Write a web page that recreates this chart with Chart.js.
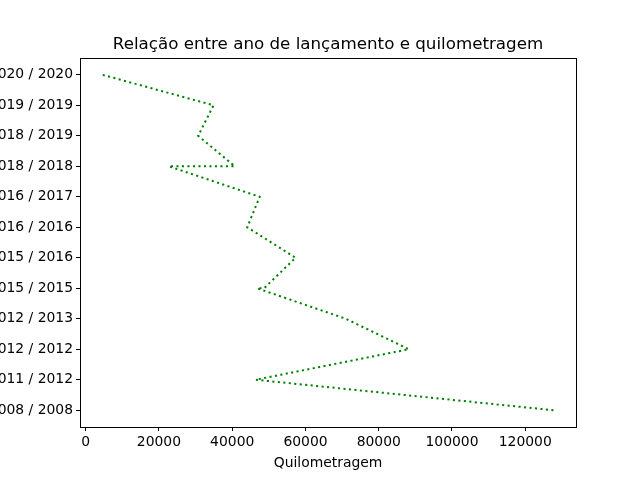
<!DOCTYPE html>
<html>
<head>
<meta charset="utf-8">
<script src="https://cdn.jsdelivr.net/npm/chart.js@4.4.0/dist/chart.umd.min.js"></script>
<style>
    body { margin: 0; background: #fff; }
    canvas { display: block; }
</style>
</head>
<body>
<canvas id="chart" width="640" height="480"></canvas>
<script>
// Year categories, bottom to top (order of first appearance)
const categories = ['2008 / 2008', '2011 / 2012', '2012 / 2012', '2012 / 2013', '2015 / 2015', '2015 / 2016',
    '2016 / 2016', '2016 / 2017', '2018 / 2018', '2018 / 2019', '2019 / 2019', '2020 / 2020'];

// One entry per car, in plotting order
const rowYears = ['2008 / 2008', '2011 / 2012', '2012 / 2012', '2012 / 2013', '2015 / 2015', '2015 / 2015',
    '2015 / 2016', '2016 / 2016', '2016 / 2017', '2018 / 2018', '2018 / 2018', '2018 / 2019', '2019 / 2019', '2020 / 2020'];
const rowKm = [127700, 46400, 88200, 71000, 46800, 48700, 57300, 44100, 47500, 22700, 40700, 30700, 34900, 4600];

const xTicks = [0, 20000, 40000, 60000, 80000, 100000, 120000];

const FONT = 'DejaVu Sans';

// matplotlib-like 5% margins
const kmMin = Math.min(...rowKm);
const kmMax = Math.max(...rowKm);
const kmPad = (kmMax - kmMin) * 0.05;

const points = rowKm.map((km, i) => ({ x: km, y: categories.indexOf(rowYears[i]) }));

// Draw the full box around the plot area
const frame = {
    id: 'frame',
    afterDraw(chart) {
        const a = chart.chartArea;
        const ctx = chart.ctx;
        ctx.save();
        ctx.strokeStyle = '#000';
        ctx.lineWidth = 1;
        ctx.strokeRect(Math.round(a.left) + 0.5, Math.round(a.top) + 0.5,
            Math.round(a.right - a.left), Math.round(a.bottom - a.top));
        ctx.restore();
    }
};

const ctx = document.getElementById('chart').getContext('2d');
new Chart(ctx, {
    type: 'line',
    data: {
        datasets: [{
            data: points,
            borderColor: '#008000',
            borderWidth: 2,
            borderDash: [2.1, 3.4],
            borderCapStyle: 'butt',
            pointRadius: 0,
            tension: 0,
            fill: false
        }]
    },
    plugins: [frame],
    options: {
        responsive: false,
        animation: false,
        layout: { padding: { left: 0, right: 64, top: 0, bottom: 0 } },
        plugins: {
            legend: { display: false },
            tooltip: { enabled: false },
            title: {
                display: true,
                fullSize: false,
                text: 'Relação entre ano de lançamento e quilometragem',
                color: '#000',
                font: { family: FONT, size: 16.7, weight: 'normal' },
                padding: { top: 35, bottom: 3 }
            }
        },
        scales: {
            x: {
                type: 'linear',
                min: kmMin - kmPad,
                max: kmMax + kmPad,
                afterBuildTicks: scale => { scale.ticks = xTicks.map(v => ({ value: v })); },
                afterFit: scale => { scale.height = 53; },
                grid: { drawOnChartArea: false, drawTicks: true, tickLength: 4, color: '#000' },
                border: { display: false },
                ticks: {
                    color: '#000',
                    font: { family: FONT, size: 13.9 },
                    padding: 3,
                    maxRotation: 0,
                    callback: v => String(v)
                },
                title: {
                    display: true,
                    text: 'Quilometragem',
                    color: '#000',
                    font: { family: FONT, size: 13.9 },
                    padding: { top: 2, bottom: 8 }
                }
            },
            y: {
                type: 'linear',
                min: -0.55,
                max: categories.length - 1 + 0.55,
                afterBuildTicks: scale => { scale.ticks = categories.map((c, i) => ({ value: i })); },
                afterFit: scale => { scale.width = 80; },
                grid: { drawOnChartArea: false, drawTicks: true, tickLength: 4, color: '#000' },
                border: { display: false },
                ticks: {
                    color: '#000',
                    font: { family: FONT, size: 13.9 },
                    padding: 3,
                    callback: v => categories[v]
                }
            }
        }
    }
});
</script>
</body>
</html>
